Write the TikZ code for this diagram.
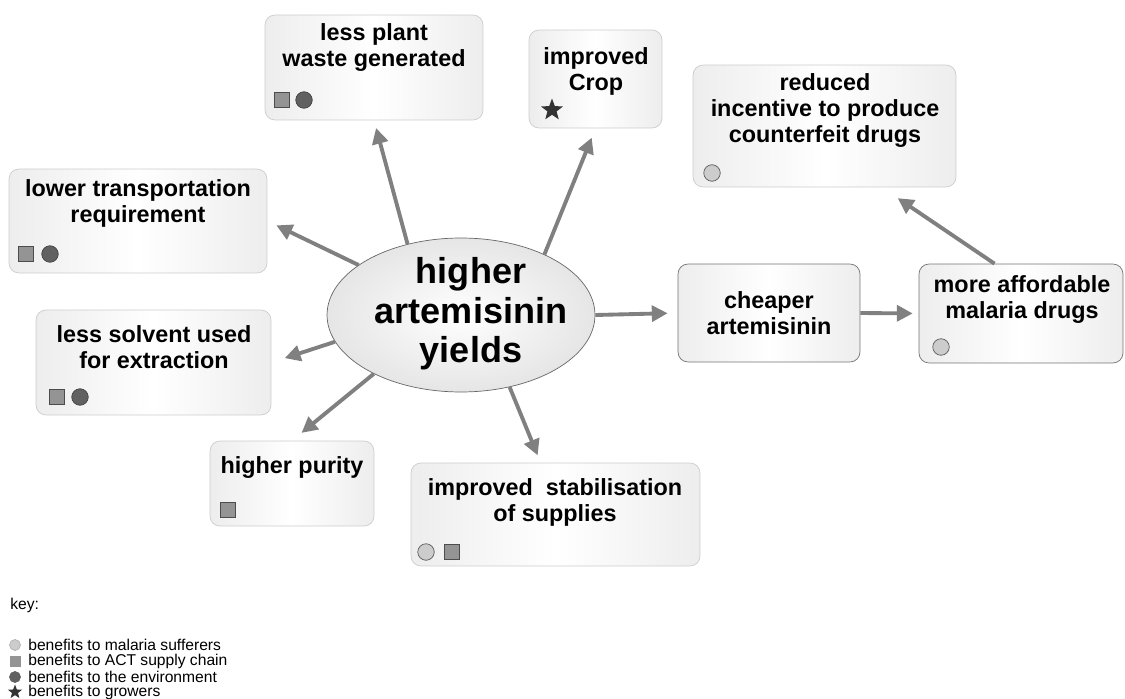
\documentclass[tikz,border=0pt]{standalone}
\usepackage{fontspec}
\setmainfont{Liberation Sans}
\usetikzlibrary{shapes.geometric, arrows.meta, positioning}
\definecolor{arrowgray}{HTML}{808080}
\tikzset{
    card/.style={
        rectangle,
        rounded corners=0.2cm,
        draw=black!20,
        left color=black!7,
        right color=black!7,
        middle color=white,
        inner sep=0pt
    },
    darkcard/.style={
        card,
        draw=black!55
    },
    hubnode/.style={
        ellipse,
        draw=black!60,
        inner color=white,
        outer color=black!10,
        minimum width=5.36cm,
        minimum height=3.08cm,
        inner sep=0pt
    },
    cardtext/.style={
        align=center,
        inner sep=0pt,
        font=\bfseries\fontsize{13.3}{14.8}\selectfont
    },
    hubtext/.style={
        align=center,
        inner sep=0pt,
        font=\bfseries\fontsize{20.5}{22.4}\selectfont
    },
    keytext/.style={
        anchor=west,
        inner sep=0pt,
        font=\fontsize{8.9}{9}\selectfont
    },
    sqsym/.style={
        rectangle,
        draw=black!70,
        fill=black!42,
        minimum size=0.31cm,
        inner sep=0pt
    },
    envsym/.style={
        circle,
        draw=black!75,
        fill=black!62,
        minimum size=0.33cm,
        inner sep=0pt
    },
    malsym/.style={
        circle,
        draw=black!65,
        fill=black!20,
        minimum size=0.33cm,
        inner sep=0pt
    },
    growsym/.style={
        star,
        star points=5,
        star point ratio=2.4,
        fill=black!80,
        minimum size=0.46cm,
        inner sep=0pt
    },
    arrow/.style={
        draw=arrowgray,
        line width=2.2pt,
        -{Triangle[length=9pt,width=9pt]}
    }
}

\begin{document}
\begin{tikzpicture}[x=0.02cm, y=-0.02cm]
\useasboundingbox (0,0) rectangle (1125,699);

\node (hub) [hubnode] at (461,315) {};
\node (hubtxt) [hubtext] at (471,314) {higher\\artemisinin\\yields};

\node (waste) [card, minimum width=4.36cm, minimum height=2.10cm] at (374,67.5) {};
\node (wastetxt) [cardtext] at (374,48) {less plant\\waste generated};
\node (wastesq) [sqsym] at (282,100) {};
\node (wasteenv) [envsym] at (304,100) {};

\node (crop) [card, minimum width=2.66cm, minimum height=1.96cm] at (595.5,79) {};
\node (croptxt) [cardtext] at (596,71) {improved\\Crop};
\node (cropstar) [growsym] at (552,110) {};

\node (reduced) [card, minimum width=5.26cm, minimum height=2.44cm] at (824.5,126) {};
\node (reducedtxt) [cardtext] at (825,111) {reduced\\incentive to produce\\counterfeit drugs};
\node (reducedmal) [malsym] at (712,173) {};

\node (lowtrans) [card, minimum width=5.16cm, minimum height=2.08cm] at (138,221) {};
\node (lowtranstxt) [cardtext] at (138,203) {lower transportation\\requirement};
\node (lowtranssq) [sqsym] at (26,254) {};
\node (lowtransenv) [envsym] at (50,254) {};

\node (solvent) [card, minimum width=4.70cm, minimum height=2.10cm] at (153.5,362.5) {};
\node (solventtxt) [cardtext] at (154,347) {less solvent used\\for extraction};
\node (solventsq) [sqsym] at (57,397) {};
\node (solventenv) [envsym] at (80,397) {};

\node (purity) [card, minimum width=3.28cm, minimum height=1.70cm] at (292,483.5) {};
\node (puritytxt) [cardtext] at (292,468) {higher purity};
\node (puritysq) [sqsym] at (228,510) {};

\node (stab) [card, minimum width=5.78cm, minimum height=2.06cm] at (555.5,514.5) {};
\node (stabtxt) [cardtext] at (555,502) {improved\ \ stabilisation\\of supplies};
\node (stabmal) [malsym] at (426,552) {};
\node (stabsq) [sqsym] at (452,552) {};

\node (cheap) [darkcard, minimum width=3.64cm, minimum height=1.96cm] at (769,313) {};
\node (cheaptxt) [cardtext] at (769,313) {cheaper\\artemisinin};

\node (afford) [darkcard, minimum width=4.08cm, minimum height=1.98cm] at (1021,313.5) {};
\node (affordtxt) [cardtext] at (1022,300) {more affordable\\malaria drugs};
\node (affordmal) [malsym] at (941,347) {};

\draw [arrow, shorten >=4.5pt] (hub.127) -- (waste.south);
\draw [arrow, shorten >=5.7pt] (hub.36) -- (crop.south);
\draw [arrow, shorten >=5.7pt] (hub.154) -- (lowtrans.east);
\draw [arrow, shorten >=8pt] (hub.192) -- (solvent.east);
\draw [arrow, shorten >=7pt] (hub.214) -- (purity.north);
\draw [arrow, shorten >=4.5pt] (hub.304) -- (stab.106);
\draw [arrow, shorten >=5.7pt] (hub.east) -- (cheap.west);
\draw [arrow, shorten >=3.4pt] (cheap.east) -- (afford.west);
\draw [arrow, shorten >=11pt] (afford.118) -- (reduced.-47);

\node (keyhead) [keytext] at (10,605) {key:};
\node (keymal) [malsym, minimum size=0.22cm, draw=black!30] at (15,645) {};
\node (keymaltxt) [keytext] at (28,645) {benefits to malaria sufferers};
\node (keysq) [sqsym, minimum size=0.2cm, draw=black!42] at (15,661) {};
\node (keysqtxt) [keytext] at (28,661) {benefits to ACT supply chain};
\node (keyenv) [envsym, minimum size=0.22cm, draw=black!62] at (15,677) {};
\node (keyenvtxt) [keytext] at (28,677) {benefits to the environment};
\node (keygrow) [growsym, minimum size=0.3cm] at (15,692) {};
\node (keygrowtxt) [keytext] at (28,692) {benefits to growers};

\end{tikzpicture}
\end{document}
